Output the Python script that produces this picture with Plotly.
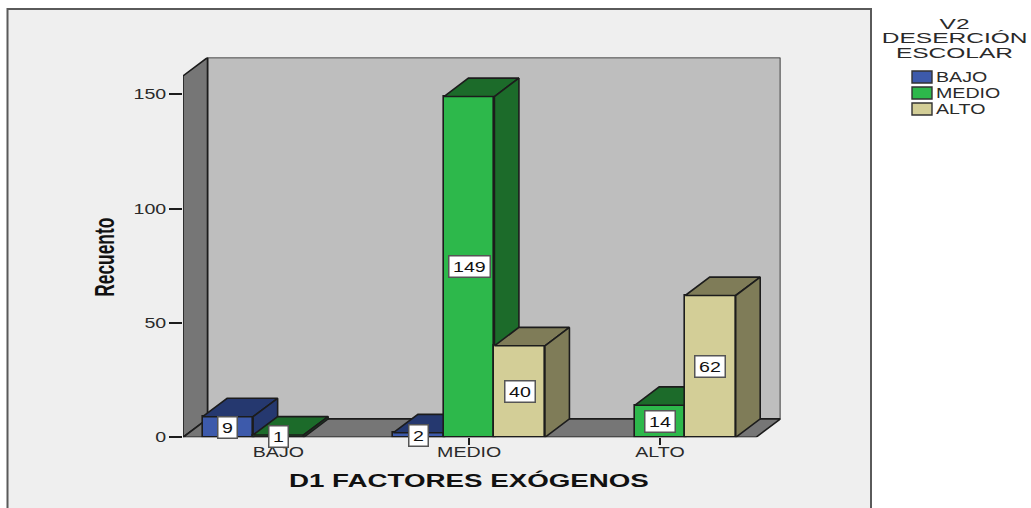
import plotly.graph_objects as go

# ---- data ----
categories = ["BAJO", "MEDIO", "ALTO"]
series_names = ["BAJO", "MEDIO", "ALTO"]
bajo_values = [9, 2, None]
medio_values = [1, 149, 14]
alto_values = [None, 40, 62]
y_ticks = [0, 50, 100, 150]
x_title = "D1 FACTORES EXÓGENOS"
y_title = "Recuento"
legend_title = ["V2", "DESERCIÓN", "ESCOLAR"]

# ---- styles ----
W, H = 1031, 508
front = ["#3D5AAB", "#2DB84B", "#D3CE97"]
side = ["#25386F", "#1C6B2A", "#7F7C58"]
edge = "#1c1c1c"
wall = "#767676"
backwall = "#BEBEBE"
panel = "#EFEFEF"
FONT = "Liberation Sans, Arial"
TXT = "#2a2a2a"

# axis frame (pixels -> paper domain) and 3-D depth expressed in axis units
px_left, px_right, px_top, px_bottom = 183.0, 780.5, 57.5, 437.3
bar_w = 50.5 / 190.75
dx = 24.5 / 190.75
dy = 18.4 / 2.287
x_range = [-0.5, 2.6319]
y_range = [0, (px_bottom - px_top) / 2.287]
wall_top = y_range[1] - dy


def poly(xs, ys, fill, **kw):
    return go.Scatter(x=xs, y=ys, mode="lines", fill="toself", fillcolor=fill,
                      line=dict(color=edge, width=1.6), hoverinfo="skip",
                      showlegend=False, **kw)


fig = go.Figure()

# walls and floor on the base subplot
xl, xr = x_range[0], x_range[1] - dx
fig.add_trace(poly([xl + dx, x_range[1], x_range[1], xl + dx, xl + dx],
                   [dy, dy, y_range[1], y_range[1], dy], backwall))
fig.add_trace(poly([xl, xl + dx, xl + dx, xl, xl],
                   [0, dy, y_range[1], wall_top, 0], wall))
fig.add_trace(poly([xl, xr, x_range[1], xl + dx, xl],
                   [0, 0, dy, dy, 0], wall))

# one overlaid subplot per series, so that later series cover earlier ones
all_values = [bajo_values, medio_values, alto_values]
for s, values in enumerate(all_values):
    n = s + 2
    xa, ya = f"x{n}", f"y{n}"
    offset = -1.5 * bar_w + s * bar_w
    fig.add_trace(go.Bar(x=list(range(len(categories))), y=values, width=bar_w, offset=offset,
                         name=series_names[s], marker=dict(color=front[s], line=dict(color=edge, width=1.6)),
                         xaxis=xa, yaxis=ya, showlegend=False, hoverinfo="skip"))
    for c, v in enumerate(values):
        if v is None:
            continue
        x0 = c + offset
        x1 = x0 + bar_w
        fig.add_trace(poly([x0, x1, x1 + dx, x0 + dx, x0], [v, v, v + dy, v + dy, v], side[s], xaxis=xa, yaxis=ya))
        fig.add_trace(poly([x1, x1 + dx, x1 + dx, x1, x1], [0, dy, v + dy, v, 0], side[s], xaxis=xa, yaxis=ya))
        fig.add_annotation(x=x0 + bar_w / 2, y=v / 2, xref="x", yref="y", text=str(v), showarrow=False,
                           font=dict(family=FONT, size=14, color="#111111"), bgcolor="#FFFFFF",
                           bordercolor="#555555", borderwidth=1.5, borderpad=2, yanchor="middle",
                           width=3 + 11 * len(str(v)))


def paper_x(p):
    return p / W


def paper_y(p):
    return 1 - p / H


shapes = [dict(type="rect", xref="paper", yref="paper", x0=paper_x(7.5), x1=paper_x(871),
               y0=-0.2, y1=paper_y(9), fillcolor=panel, line=dict(color="#5a5a5a", width=2), layer="below")]

# legend
for i, name in enumerate(series_names):
    yc = 77 + 16 * i
    shapes.append(dict(type="rect", xref="paper", yref="paper", x0=paper_x(912), x1=paper_x(932),
                       y0=paper_y(yc + 6), y1=paper_y(yc - 6), fillcolor=front[i],
                       line=dict(color="#333333", width=1.4)))
    fig.add_annotation(xref="paper", yref="paper", x=paper_x(934), y=paper_y(yc), text=name, showarrow=False,
                       xanchor="left", yanchor="middle", align="left", font=dict(family=FONT, size=14, color=TXT))
for i, line in enumerate(legend_title):
    fig.add_annotation(xref="paper", yref="paper", x=paper_x(954), y=paper_y(24 + 14.5 * i), text=line, showarrow=False,
                       xanchor="center", yanchor="middle", font=dict(family=FONT, size=14, color=TXT))

# axis titles
fig.add_annotation(xref="paper", yref="paper", x=paper_x(469), y=paper_y(480), text=x_title, showarrow=False,
                   xanchor="center", yanchor="middle", font=dict(family=FONT, size=18, color="#111111", weight="bold"))
fig.add_annotation(xref="paper", yref="paper", x=paper_x(104), y=paper_y(257), text=y_title, showarrow=False,
                   xanchor="center", yanchor="middle", textangle=-90,
                   font=dict(family=FONT, size=28, color="#111111", weight="bold"))

x_dom = [px_left / W, px_right / W]
y_dom = [1 - px_bottom / H, 1 - px_top / H]
layout = dict(
    width=W, height=H, margin=dict(l=0, r=0, t=0, b=0, autoexpand=False), paper_bgcolor="#FFFFFF",
    plot_bgcolor="rgba(0,0,0,0)", showlegend=False, shapes=shapes, bargap=0,
    xaxis=dict(domain=x_dom, range=x_range, tickmode="array", tickvals=list(range(len(categories))),
               ticktext=categories, ticks="outside", ticklen=7, tickwidth=1.5, tickcolor=edge, showgrid=False,
               ticklabelstandoff=-5,
               zeroline=False, showline=False, tickfont=dict(family=FONT, size=14, color=TXT)),
    yaxis=dict(domain=y_dom, range=y_range, tickmode="array", tickvals=y_ticks, ticks="outside", ticklen=13,
               tickwidth=1.5, tickcolor=edge, showgrid=False, zeroline=False, showline=False,
               tickfont=dict(family=FONT, size=14, color=TXT)),
)
for n in (2, 3, 4):
    layout[f"xaxis{n}"] = dict(overlaying="x", range=x_range, visible=False, anchor=f"y{n}")
    layout[f"yaxis{n}"] = dict(overlaying="y", range=y_range, visible=False, anchor=f"x{n}")
fig.update_layout(**layout)

# The reference's lettering is stretched sideways; remove the page margin and widen the real text the same way.
post = """
document.documentElement.style.overflow = 'hidden';
document.body.style.margin = '0';
const factors = {'V2': 1.75, 'DESERCIÓN': 1.75, 'ESCOLAR': 1.75, 'D1 FACTORES EXÓGENOS': 1.54, 'Recuento': 0.62};
document.querySelectorAll('svg text').forEach(function (t) {
  const s = t.textContent.trim();
  if (!s) return;
  const f = factors[s] || 1.4;
  t.setAttribute('textLength', t.getComputedTextLength() * f);
  t.setAttribute('lengthAdjust', 'spacingAndGlyphs');
});
"""
fig.write_html("out.html", post_script=post, config={"displayModeBar": False})
